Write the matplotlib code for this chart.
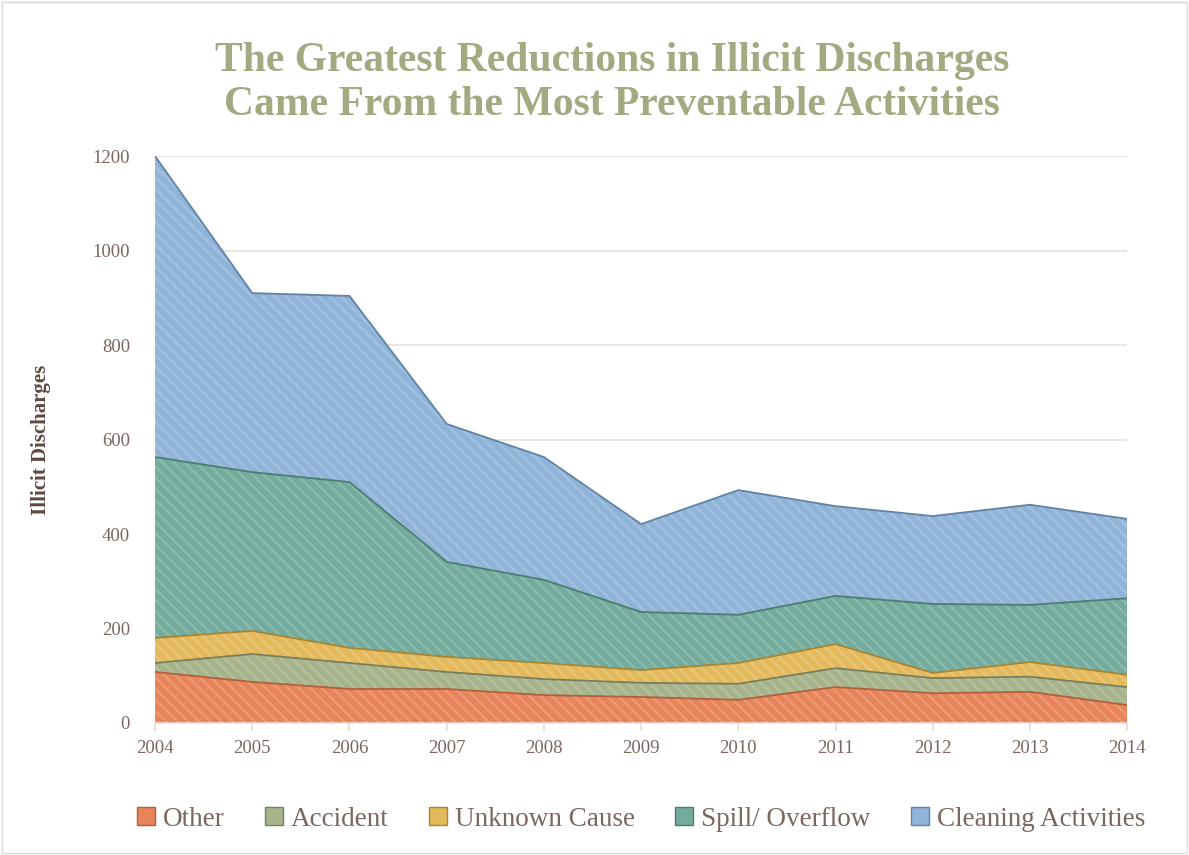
import matplotlib.pyplot as plt
import numpy as np

years = [2004, 2005, 2006, 2007, 2008, 2009, 2010, 2011, 2012, 2013, 2014]
other = [108, 87, 72, 72, 59, 55, 49, 76, 63, 66, 38]
accident = [19, 59, 55, 36, 34, 30, 34, 40, 32, 32, 38]
unknown = [53, 49, 32, 32, 34, 27, 44, 51, 11, 31, 26]
spill = [383, 336, 351, 201, 176, 123, 102, 102, 146, 121, 162]
cleaning = [637, 379, 394, 292, 260, 186, 264, 190, 186, 212, 168]

labels = ["Other", "Accident", "Unknown Cause", "Spill/ Overflow", "Cleaning Activities"]
colors = ["#E8845A", "#A6B38B", "#E4B95C", "#73AB9C", "#8FB4D8"]
edges = ["#B0603C", "#76805C", "#A88530", "#4C7D70", "#5F83A6"]

text_col = "#7B6660"
plt.rcParams['font.family'] = ['Liberation Serif', 'DejaVu Serif']
plt.rcParams['hatch.linewidth'] = 1.6

fig = plt.figure(figsize=(11.89, 8.55), dpi=100)
ax = fig.add_axes([0.1304, 0.1544, 0.8176, 0.663])

series = [other, accident, unknown, spill, cleaning]
bottom = np.zeros(len(years))
for vals, lab, c, ec in zip(series, labels, colors, edges):
    top = bottom + np.array(vals)
    ax.fill_between(years, bottom, top, facecolor=c, edgecolor='none', zorder=2)
    ax.fill_between(years, bottom, top, facecolor='none', edgecolor=(1, 1, 1, 0.18),
                    hatch='\\\\\\', linewidth=0, zorder=3)
    ax.plot(years, top, color=ec, lw=1.3, zorder=4)
    bottom = top

# legend proxies
for lab, c, ec in zip(labels, colors, edges):
    ax.fill_between([], [], [], facecolor=c, edgecolor=ec, label=lab)

ax.set_xlim(2004, 2014)
ax.set_ylim(0, 1200)
ax.set_yticks(range(0, 1201, 200))
ax.set_xticks(years)
ax.grid(axis='y', color='#E8E0DC', lw=1.2, zorder=0)
ax.set_axisbelow(True)
for s in ['left', 'right', 'top']:
    ax.spines[s].set_visible(False)
ax.spines['bottom'].set_color('#E8DCD6')
ax.spines['bottom'].set_linewidth(1.2)
ax.tick_params(axis='x', colors='#E8DCD6', labelcolor=text_col, labelsize=13.5,
               length=6, width=1.2, pad=6)
ax.tick_params(axis='y', length=0, labelcolor=text_col, labelsize=13.5, pad=18)

ax.set_ylabel("Illicit Discharges", fontsize=15, fontweight='bold', color='#5E4840',
              labelpad=30)

fig.text(0.515, 0.855, "The Greatest Reductions in Illicit Discharges\nCame From the Most Preventable Activities",
         ha='center', va='bottom', fontsize=30, fontweight='bold', color='#A3AA82',
         linespacing=1.2)

leg = ax.legend(loc='upper center', bbox_to_anchor=(0.5, -0.105), ncol=5, frameon=False,
                fontsize=19.5, handlelength=0.65, handleheight=0.65, handletextpad=0.3,
                columnspacing=1.5, labelcolor=text_col)

fig.patches.append(plt.Rectangle((0.002, 0.002), 0.996, 0.996, transform=fig.transFigure,
                                 fill=False, edgecolor='#D9D9D9', lw=1))

fig.savefig("out.png", dpi=100)
